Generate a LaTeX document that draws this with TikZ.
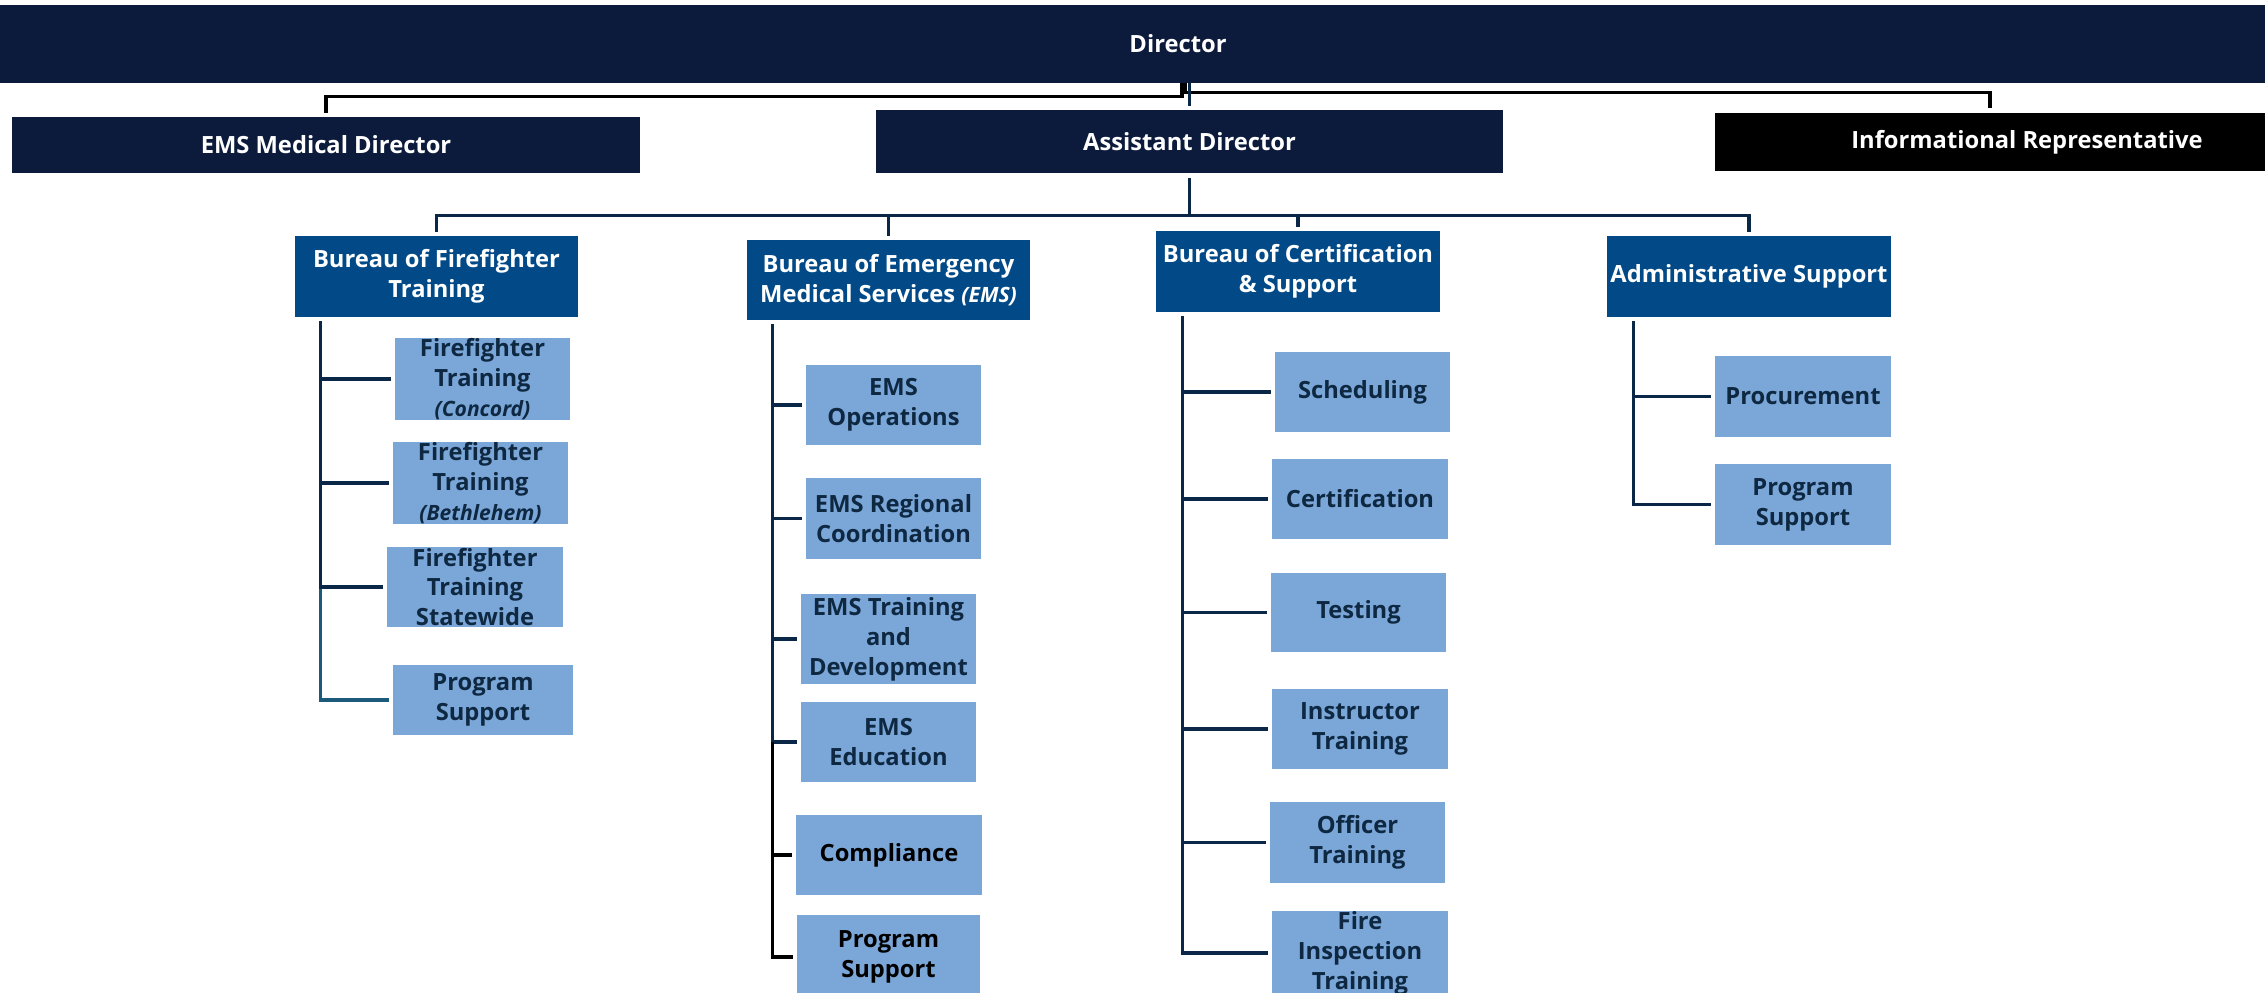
\documentclass[tikz,border=0pt]{standalone}
\usepackage{fontspec}
\setmainfont{Open Sans}
\usetikzlibrary{calc}

\definecolor{dirnavy}{HTML}{0C1B3C}
\definecolor{bureaublue}{HTML}{024A87}
\definecolor{unitblue}{HTML}{7BA6D8}
\definecolor{unittext}{HTML}{0E2841}
\definecolor{wirenavy}{HTML}{0B2747}
\definecolor{wireteal}{HTML}{1B5A7A}

\newcommand{\sub}[1]{{\itshape\fontsize{12}{14}\selectfont #1}}

\tikzset{
  headbox/.style={rectangle,fill=dirnavy,text=white,inner sep=0pt,align=center,
    font=\bfseries\fontsize{13.5}{17}\selectfont},
  bureaubox/.style={rectangle,fill=bureaublue,text=white,inner sep=0pt,align=center,
    font=\bfseries\fontsize{13.5}{17}\selectfont},
  unitbox/.style={rectangle,fill=unitblue,text=unittext,inner sep=0pt,align=center,
    font=\bfseries\fontsize{13.5}{17}\selectfont},
  wire/.style={draw=wirenavy,line width=2pt},
  topwire/.style={draw=black,line width=1.8pt},
  branch/.style={wire,shorten >=0.08cm}
}

\begin{document}
\begin{tikzpicture}[x=0.02cm,y=-0.02cm]
\clip (0,0) rectangle (2265,993);
\fill[white] (0,0) rectangle (2265,993);

% top row
\node [headbox,minimum width=47.12cm,minimum height=1.56cm] (dir) at (1178,44) {Director};
\node [headbox,minimum width=12.56cm,minimum height=1.12cm] (emsmd) at (326,145) {EMS Medical Director};
\node [headbox,minimum width=12.54cm,minimum height=1.26cm] (asst) at (1189.5,141.5) {Assistant Director};
\node [headbox,fill=black,minimum width=12.48cm,minimum height=1.16cm] (info) at (2027,142) {Informational Representative};
\coordinate (infotop) at (1990,108);

\draw [topwire] ([xshift=0.08cm]dir.south) -- ++(0,13) -| ([yshift=0.08cm]emsmd.north);
\draw [topwire] ([xshift=0.14cm]dir.south) -- ++(0,9) -| (infotop);
\draw [wire] (dir.south -| asst.north) -- ([yshift=0.08cm]asst.north);

% bureaus
\node [bureaubox,minimum width=5.66cm,minimum height=1.62cm] (fft) at (436.5,276.5) {Bureau of Firefighter\\Training};
\node [bureaubox,minimum width=5.66cm,minimum height=1.60cm] (ems) at (888.5,280) {Bureau of Emergency\\Medical Services \sub{(EMS)}};
\node [bureaubox,minimum width=5.68cm,minimum height=1.62cm] (cert) at (1298,271.5) {Bureau of Certification\\\& Support};
\node [bureaubox,minimum width=5.68cm,minimum height=1.62cm] (admin) at (1749,276.5) {Administrative Support};

\draw [wire] ([yshift=-0.1cm]asst.south) -- ++(0,37) -| ([yshift=0.08cm]fft.north);
\draw [wire] ([yshift=-0.1cm]asst.south) -- ++(0,37) -| ([yshift=0.08cm]ems.north);
\draw [wire] ([yshift=-0.1cm]asst.south) -- ++(0,37) -| ([yshift=0.08cm]cert.north);
\draw [wire] ([yshift=-0.1cm]asst.south) -- ++(0,37) -| ([yshift=0.08cm]admin.north);

% firefighter training units
\node [unitbox,minimum width=3.5cm,minimum height=1.6cm] (ftc) at (482.5,379) {Firefighter\\Training\\\sub{(Concord)}};
\node [unitbox,minimum width=3.5cm,minimum height=1.6cm] (ftb) at (480.5,483) {Firefighter\\Training\\\sub{(Bethlehem)}};
\node [unitbox,minimum width=3.52cm,minimum height=1.6cm] (fts) at (475,587) {Firefighter\\Training\\Statewide};
\node [unitbox,minimum width=3.6cm,minimum height=1.42cm] (fps) at (483,700) {Program\\Support};

\coordinate (fftspine) at ($(fft.south west)+(26,4)$);
\draw [branch,draw=wireteal] (fftspine |- fts.west) |- (fps.west);
\draw [branch] (fftspine) |- (ftc.west);
\draw [branch] (fftspine) |- (ftb.west);
\draw [branch] (fftspine) |- (fts.west);

% ems units
\node [unitbox,minimum width=3.5cm,minimum height=1.6cm] (eop) at (893.5,405) {EMS\\Operations};
\node [unitbox,minimum width=3.5cm,minimum height=1.62cm] (erc) at (893.5,518.5) {EMS Regional\\Coordination};
\node [unitbox,minimum width=3.5cm,minimum height=1.8cm] (etd) at (888.5,639) {EMS Training\\and\\Development};
\node [unitbox,minimum width=3.5cm,minimum height=1.6cm] (eed) at (888.5,742) {EMS\\Education};
\node [unitbox,text=black,minimum width=3.72cm,minimum height=1.6cm] (ecomp) at (889,855) {Compliance};
\node [unitbox,text=black,minimum width=3.66cm,minimum height=1.68cm] (eps) at (888.5,957) {Program\\Support};

\coordinate (emsspine) at ($(ems.south west)+(26,4)$);
\draw [branch] (emsspine) |- (eop.west);
\draw [branch] (emsspine) |- (erc.west);
\draw [branch] (emsspine) |- (etd.west);
\draw [branch] (emsspine) |- (eed.west);
\draw [branch,draw=black] (emsspine |- eed.west) |- (ecomp.west);
\draw [branch,draw=black] (emsspine |- eed.west) |- (eps.west);

% certification units
\node [unitbox,minimum width=3.5cm,minimum height=1.6cm] (sch) at (1362.5,392) {Scheduling};
\node [unitbox,minimum width=3.52cm,minimum height=1.6cm] (crt) at (1360,499) {Certification};
\node [unitbox,minimum width=3.5cm,minimum height=1.6cm] (tst) at (1358.5,612.5) {Testing};
\node [unitbox,minimum width=3.52cm,minimum height=1.6cm] (ins) at (1360,729) {Instructor\\Training};
\node [unitbox,minimum width=3.5cm,minimum height=1.62cm] (off) at (1357.5,842.5) {Officer\\Training};
\node [unitbox,minimum width=3.52cm,minimum height=1.64cm] (fit) at (1360,953) {Fire\\Inspection\\Training};

\coordinate (certspine) at ($(cert.south west)+(27,4)$);
\draw [branch] (certspine) |- (sch.west);
\draw [branch] (certspine) |- (crt.west);
\draw [branch] (certspine) |- (tst.west);
\draw [branch] (certspine) |- (ins.west);
\draw [branch] (certspine) |- (off.west);
\draw [branch] (certspine) |- (fit.west);

% administrative units
\node [unitbox,minimum width=3.52cm,minimum height=1.62cm] (proc) at (1803,396.5) {Procurement};
\node [unitbox,minimum width=3.52cm,minimum height=1.62cm] (aps) at (1803,504.5) {Program\\Support};

\coordinate (adminspine) at ($(admin.south west)+(27,4)$);
\draw [branch] (adminspine) |- (proc.west);
\draw [branch] (adminspine) |- (aps.west);
\end{tikzpicture}
\end{document}
